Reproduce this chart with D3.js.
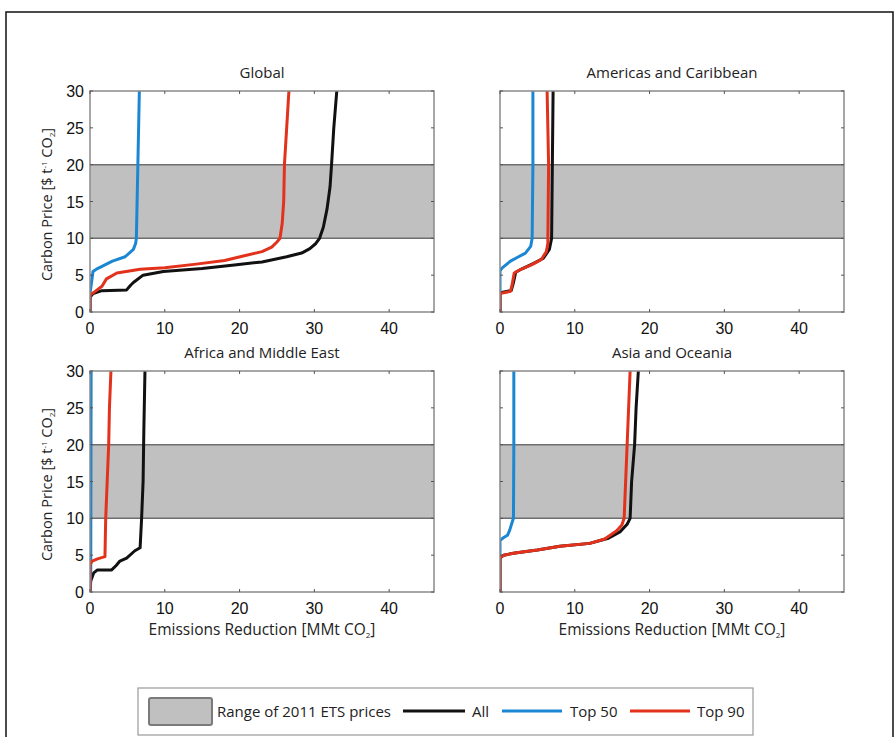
<!DOCTYPE html>
<html>
<head>
<meta charset="utf-8">
<script src="https://cdn.jsdelivr.net/npm/d3@7"></script>
<style>
  body { margin: 0; background: #fff; }
  svg { display: block; }
  .tick-label { font-family: "Liberation Sans", Arial, sans-serif; font-size: 16px; fill: #111; }
  .title, .axis-label, .legend-text { font-family: "Open Sans", "Noto Sans", sans-serif; fill: #222; }
</style>
</head>
<body>
<div id="chart"></div>
<script>
// panels and legend
const regions = ["Global", "Americas and Caribbean", "Africa and Middle East", "Asia and Oceania"];
const seriesNames = ["All", "Top 50", "Top 90"];
const seriesColors = ["#111111", "#1b87d2", "#e2321b"];
const etsRange = [10, 20];
const xTicks = [0, 10, 20, 30, 40];
const yTicks = [0, 5, 10, 15, 20, 25, 30];

// [emissions reduction (MMt CO2), carbon price ($/t CO2)]
const globalAll = [[0,0],[0,2],[0.4,2.5],[1.6,2.9],[4.9,3],[5.4,3.6],[5.8,4],[7.1,5],[9.8,5.5],[15,5.9],[19.6,6.4],[23,6.8],[26.3,7.5],[28.3,8],[29.4,8.6],[30.2,9.3],[30.7,10],[31.2,11.5],[31.7,14],[32.1,17],[32.3,20],[32.6,25],[33,30]];
const globalTop50 = [[0,0],[0,2.5],[0.2,4],[0.4,5.5],[1,5.9],[1.8,6.3],[3,6.9],[4.7,7.5],[5.8,8.5],[6.1,9.3],[6.2,10],[6.4,20],[6.6,30]];
const globalTop90 = [[0,0],[0,2.3],[0.7,2.8],[1.6,3.5],[2.2,4.5],[3.6,5.3],[6.7,5.8],[10,6],[14.2,6.5],[18,7],[20.5,7.6],[23,8.2],[24.3,8.8],[25,9.5],[25.4,10],[25.7,12],[25.9,15],[26,20],[26.3,25],[26.6,30]];
const americasAll = [[0,0],[0,2.6],[1.5,2.9],[1.8,4],[2.1,5.4],[3,5.9],[4.5,6.6],[5.8,7.3],[6.6,8.5],[6.9,10],[7,20],[7.1,30]];
const americasTop50 = [[0,0],[0,5.6],[0.3,6],[1.4,6.9],[2.3,7.4],[3.4,8],[4.1,8.9],[4.3,10],[4.4,20],[4.4,30]];
const americasTop90 = [[0,0],[0,2.5],[1.4,2.8],[1.6,3.6],[1.9,5.3],[2.8,5.8],[4.2,6.4],[5.5,7.1],[6.2,8.2],[6.4,9.3],[6.4,10],[6.5,20],[6.3,30]];
const africaAll = [[0,0],[0.1,1.5],[0.5,2.6],[1,3],[2.9,3],[3.5,3.6],[4,4.2],[4.9,4.6],[6,5.6],[6.7,6],[6.8,8],[6.9,10],[7.1,15],[7.2,22],[7.35,30]];
const africaTop50 = [[0,0],[0.1,3],[0.15,30]];
const africaTop90 = [[0,0],[0,3.7],[0.3,4.2],[1,4.5],[2,4.8],[2.1,10],[2.3,15],[2.5,20],[2.6,25],[2.8,30]];
const asiaAll = [[0,0],[0,4.6],[0.5,5],[2,5.3],[5,5.7],[8,6.2],[12,6.6],[14.5,7.3],[16.1,8.2],[17,9.2],[17.4,10],[17.6,15],[18,20],[18.2,25],[18.5,30]];
const asiaTop50 = [[0,0],[0,7],[0.5,7.4],[1,7.7],[1.3,8.4],[1.6,9.4],[1.8,10],[1.85,20],[1.85,30]];
const asiaTop90 = [[0,0],[0,4.6],[0.5,5],[2,5.3],[5,5.7],[8,6.2],[12,6.6],[14,7.2],[15.6,8.3],[16.3,9.1],[16.6,10],[16.8,15],[17,20],[17.2,25],[17.4,30]];

const regionSeries = [
  [globalAll, globalTop50, globalTop90],
  [americasAll, americasTop50, americasTop90],
  [africaAll, africaTop50, africaTop90],
  [asiaAll, asiaTop50, asiaTop90]
];

const width = 895, height = 737;
const svg = d3.select("#chart").append("svg")
  .attr("width", width)
  .attr("height", height);

// outer frame
svg.append("rect")
  .attr("x", 6).attr("y", 12)
  .attr("width", 887).attr("height", 740)
  .attr("fill", "none").attr("stroke", "#111").attr("stroke-width", 1.5);

const cols = [90, 500], rows = [91, 371];
const pw = 344, ph = 221;

const x = d3.scaleLinear().domain([0, 46]).range([0, pw]);
const y = d3.scaleLinear().domain([0, 30]).range([ph, 0]);
const line = d3.line().x(d => x(d[0])).y(d => y(d[1]));

regions.forEach((name, i) => {
  const col = i % 2, row = Math.floor(i / 2);
  const g = svg.append("g").attr("transform", `translate(${cols[col]},${rows[row]})`);

  g.append("clipPath").attr("id", "clip" + i)
    .append("rect").attr("width", pw).attr("height", ph);

  // ETS band
  g.append("rect")
    .attr("x", 0).attr("y", y(etsRange[1]))
    .attr("width", pw).attr("height", y(etsRange[0]) - y(etsRange[1]))
    .attr("fill", "#c0c0c0");
  etsRange.forEach(v => {
    g.append("line")
      .attr("x1", 0).attr("x2", pw).attr("y1", y(v)).attr("y2", y(v))
      .attr("stroke", "#6e6e6e").attr("stroke-width", 1.5);
  });

  // curves
  g.append("g").attr("clip-path", `url(#clip${i})`)
    .selectAll("path")
    .data(regionSeries[i])
    .join("path")
    .attr("d", line)
    .attr("fill", "none")
    .attr("stroke", (d, j) => seriesColors[j])
    .attr("stroke-width", 3)
    .attr("stroke-linejoin", "round");

  // box
  g.append("rect")
    .attr("width", pw).attr("height", ph)
    .attr("fill", "none").attr("stroke", "#8a8a8a").attr("stroke-width", 1.5);

  // inside ticks on all four sides
  const tickLen = 3;
  xTicks.forEach(t => {
    g.append("line").attr("x1", x(t)).attr("x2", x(t)).attr("y1", ph).attr("y2", ph - tickLen)
      .attr("stroke", "#555").attr("stroke-width", 1);
    g.append("line").attr("x1", x(t)).attr("x2", x(t)).attr("y1", 0).attr("y2", tickLen)
      .attr("stroke", "#555").attr("stroke-width", 1);
  });
  yTicks.forEach(t => {
    g.append("line").attr("x1", 0).attr("x2", tickLen).attr("y1", y(t)).attr("y2", y(t))
      .attr("stroke", "#555").attr("stroke-width", 1);
    g.append("line").attr("x1", pw).attr("x2", pw - tickLen).attr("y1", y(t)).attr("y2", y(t))
      .attr("stroke", "#555").attr("stroke-width", 1);
  });

  // x tick labels
  g.selectAll(".xl").data(xTicks).join("text")
    .attr("class", "tick-label")
    .attr("x", d => x(d)).attr("y", ph + 22)
    .attr("text-anchor", "middle")
    .text(d => d);

  // y tick labels on left panels only
  if (col === 0) {
    g.selectAll(".yl").data(yTicks).join("text")
      .attr("class", "tick-label")
      .attr("x", -6).attr("y", d => y(d) + 6)
      .attr("text-anchor", "end")
      .text(d => d);

    const yl = g.append("text")
      .attr("class", "axis-label")
      .attr("transform", `translate(-38,${ph / 2 + 3}) rotate(-90)`)
      .attr("text-anchor", "middle")
      .attr("font-size", 14.5);
    yl.append("tspan").text("Carbon Price [$ t");
    yl.append("tspan").attr("dy", -5).attr("font-size", 8).text("-1");
    yl.append("tspan").attr("dy", 5).text(" CO");
    yl.append("tspan").attr("dy", 3).attr("font-size", 8).text("2");
    yl.append("tspan").attr("dy", -3).text("]");
  }

  if (row === 1) {
    const xl = g.append("text")
      .attr("class", "axis-label")
      .attr("x", pw / 2).attr("y", ph + 43)
      .attr("text-anchor", "middle")
      .attr("font-size", 15.5);
    xl.append("tspan").text("Emissions Reduction [MMt CO");
    xl.append("tspan").attr("dy", 3).attr("font-size", 8).text("2");
    xl.append("tspan").attr("dy", -3).text("]");
  }

  g.append("text")
    .attr("class", "title")
    .attr("x", pw / 2).attr("y", -13)
    .attr("text-anchor", "middle")
    .attr("font-size", 15)
    .text(name);
});

// legend
const lg = svg.append("g");
lg.append("rect")
  .attr("x", 138).attr("y", 688).attr("width", 615).attr("height", 47)
  .attr("fill", "#fff").attr("stroke", "#999").attr("stroke-width", 1.2);
lg.append("rect")
  .attr("x", 149).attr("y", 698).attr("width", 63).attr("height", 27).attr("rx", 2)
  .attr("fill", "#c0c0c0").attr("stroke", "#7a7a7a").attr("stroke-width", 2);
lg.append("text").attr("class", "legend-text")
  .attr("x", 217).attr("y", 717).attr("font-size", 15)
  .text("Range of 2011 ETS prices");

const legendLines = [[403, 465, 472], [502, 562, 570], [630, 690, 697]];
seriesNames.forEach((s, j) => {
  const [a, b, t] = legendLines[j];
  lg.append("line").attr("x1", a).attr("x2", b).attr("y1", 711).attr("y2", 711)
    .attr("stroke", seriesColors[j]).attr("stroke-width", 3);
  lg.append("text").attr("class", "legend-text")
    .attr("x", t).attr("y", 717).attr("font-size", 15)
    .text(s);
});
</script>
</body>
</html>
